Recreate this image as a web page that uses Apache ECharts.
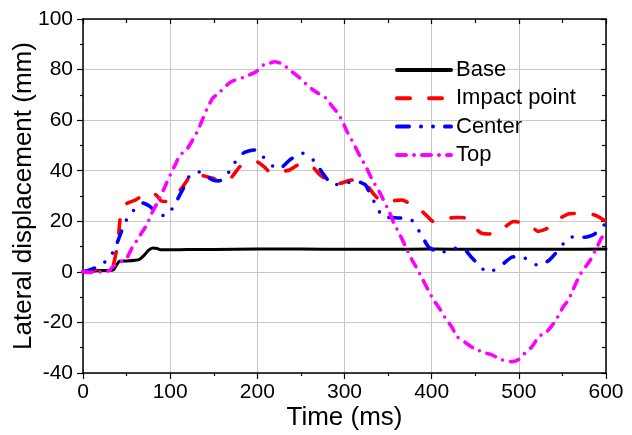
<!DOCTYPE html>
<html>
<head>
<meta charset="utf-8">
<script src="https://cdn.jsdelivr.net/npm/echarts@6/dist/echarts.min.js"></script>
<style>html,body{margin:0;padding:0;background:#fff}#c{width:632px;height:435px}</style>
</head>
<body>
<div id="c"></div>
<script>
var xTicks = [0, 100, 200, 300, 400, 500, 600];
var yTicks = [-40, -20, 0, 20, 40, 60, 80, 100];
var seriesNames = ['Base', 'Impact point', 'Center', 'Top'];

var baseT = [0,10,20,30,35,38,42,50,60,65,70,75,80,85,90,100,120,150,200,250,300,350,400,450,500,550,600];
var baseY = [0,0.2,0.5,0.5,0.8,2.5,4.2,4.3,4.6,5,6.5,8.5,9.4,9.2,8.7,8.7,8.8,8.8,9,9,8.9,8.9,9,8.9,8.9,8.9,9];

var impactT = [0,10,20,30,35,40,44,50,60,70,78,85,90,96,105,113,120,126,135,149,158,166,173,180,190,199,208,216,225,237,245,253,262,272,280,287,295,300,308,316,324,333,343,350,358,366,375,387,395,402,410,421,430,438,448,457,466,475,485,494,503,513,522,532,540,549,558,568,578,588,595,600];
var impactY = [0,0.5,1,1.5,3,12,24.5,27,28.4,30.5,31.7,30,28,27.8,30,33,36.5,39,38.3,37,35.5,35.7,38.5,41.6,43,43.6,41.5,39,39.5,40.3,42,43,42,38.3,36.3,34.4,35,35.5,36.3,36,35,31,27.8,28,28.2,28.4,27,24.5,22,19.9,20.5,21.3,21.5,21.3,18,15.3,15,15.3,18,19.9,19.5,18.5,16,17.1,19.5,21.6,23,23.1,23,22.4,21,20];

var centerT = [0,13,20,28,36,42,48,55,62,69,76,84,90,97,107,115,123,134,141,149,156,163,172,184,190,197,205,212,219,226,237,245,252,259,266,275,287,300,308,315,324,329,337,344,354,364,370,377,387,396,403,410,418,425,438,445,452,463,470,477,485,492,500,507,514,521,527,534,540,547,553,559,567,574,580,587,594,600];
var centerY = [0,1.5,3,4.5,8.7,14,19.4,23.2,25.5,27.2,26,23.8,22.3,22.5,27.8,33,38.3,39.5,38,36.3,36,37,42.3,47,47.8,48.2,46,43.6,41.5,41,44.2,46,46.9,45.5,43.6,39,34.4,35,35.5,35.7,34.4,31,25.8,21.8,21.5,21.3,21,20.5,15.3,10,8.5,7.5,8.5,9.3,8.7,6,3.5,0.1,0.5,1.7,4,5.8,6,5.4,4,2.7,3,4.4,6.5,9.3,12,13.7,13.8,13.7,14,15,17,19.5];

var topT = [0,10,20,30,34,40,50,57,62,67,73,79,86,94,100,106,111,120,128,132,138,143,149,153,158,163,170,178,185,191,199,207,214,220,229,237,243,249,257,264,270,277,283,291,298,302,310,318,324,331,341,352,357,364,371,377,383,390,396,402,410,417,423,429,435,440,448,457,463,469,477,486,492,499,505,515,523,532,540,546,551,557,562,570,574,582,590,595,600];
var topY = [0,-0.2,0,0.5,2,3.4,5.4,10,12.5,15.3,18.5,23.2,27.8,33.7,38.3,42.5,46,48.9,53.5,56.1,61,65,68.8,69.9,71.5,73.2,75.2,76.2,77,77.9,79.2,81.8,82.5,83.1,82.2,79.8,78.3,76.6,73.9,71.9,70.6,69.3,66.7,63.3,59.4,56.1,51,45.6,42,37,31,23.2,19,14.4,9.3,5,1.4,-3.2,-7.2,-11,-15,-19,-21.7,-25.6,-27,-28.3,-30.2,-31.5,-32.2,-32.8,-34.2,-35.4,-35.5,-34.8,-32.8,-29.6,-25.6,-23.7,-20.3,-17,-13.8,-11.1,-7.2,-1.2,0.8,4.7,10,13.5,15];

function pairs(t, y) { return t.map(function (v, i) { return [v, y[i]]; }); }

var FONT = "'Liberation Sans', Arial, sans-serif";
var xMin = xTicks[0], xMax = xTicks[xTicks.length - 1], xInt = xTicks[1] - xTicks[0];
var yMin = yTicks[0], yMax = yTicks[yTicks.length - 1], yInt = yTicks[1] - yTicks[0];

var chart = echarts.init(document.getElementById('c'), null, { renderer: 'canvas' });

function mkLine(name, t, y, color, width, type) {
  return {
    name: name, type: 'line', data: pairs(t, y), showSymbol: false, symbol: 'none',
    smooth: 0.2, animation: false,
    lineStyle: { color: color, width: width, type: type, cap: 'round', join: 'round' },
    itemStyle: { color: color }
  };
}

chart.setOption({
  animation: false,
  backgroundColor: '#fff',
  grid: { left: 83, right: 26, top: 19, bottom: 62, containLabel: false, outerBoundsMode: 'none' },
  legend: {
    orient: 'vertical', left: 395, top: 59, padding: 0,
    itemWidth: 54, itemHeight: 14, itemGap: 6.3,
    data: seriesNames,
    itemStyle: { opacity: 0 },
    lineStyle: { width: 4, cap: 'round' },
    textStyle: { fontSize: 22, color: '#000', fontFamily: FONT, lineHeight: 22 }
  },
  xAxis: [{
    type: 'value', position: 'bottom', min: xMin, max: xMax, interval: xInt,
    name: 'Time (ms)', nameLocation: 'middle', nameGap: 32, nameMoveOverlap: false,
    nameTextStyle: { fontSize: 26, color: '#000', fontFamily: FONT },
    axisLine: { show: true, onZero: false, lineStyle: { color: '#000', width: 1.5 } },
    axisTick: { show: true, inside: false, length: 6, lineStyle: { color: '#000', width: 1.2 } },
    minorTick: { show: true, splitNumber: 2, length: 3, lineStyle: { color: '#000', width: 1.2 } },
    axisLabel: { fontSize: 21, color: '#000', fontFamily: FONT, margin: 9 },
    splitLine: { show: true, lineStyle: { color: '#c8c8c8', width: 1 } }
  }, {
    type: 'value', position: 'top', min: xMin, max: xMax, interval: xInt,
    axisLine: { show: true, onZero: false, lineStyle: { color: '#000', width: 1.5 } },
    axisTick: { show: true, inside: true, length: 5, lineStyle: { color: '#000', width: 1.2 } },
    minorTick: { show: true, splitNumber: 2, length: 4, lineStyle: { color: '#000', width: 1.2 } },
    axisLabel: { show: false }, splitLine: { show: false }
  }],
  yAxis: [{
    type: 'value', position: 'left', min: yMin, max: yMax, interval: yInt,
    name: 'Lateral displacement (mm)', nameLocation: 'middle', nameGap: 46, nameMoveOverlap: false,
    nameTextStyle: { fontSize: 26, color: '#000', fontFamily: FONT },
    axisLine: { show: true, onZero: false, lineStyle: { color: '#000', width: 1.5 } },
    axisTick: { show: true, inside: false, length: 6, lineStyle: { color: '#000', width: 1.2 } },
    minorTick: { show: true, splitNumber: 2, length: 3, lineStyle: { color: '#000', width: 1.2 } },
    axisLabel: { fontSize: 21, color: '#000', fontFamily: FONT, margin: 10 },
    splitLine: { show: true, lineStyle: { color: '#c8c8c8', width: 1 } }
  }, {
    type: 'value', position: 'right', min: yMin, max: yMax, interval: yInt,
    axisLine: { show: true, onZero: false, lineStyle: { color: '#000', width: 1.5 } },
    axisTick: { show: true, inside: true, length: 5, lineStyle: { color: '#000', width: 1.2 } },
    minorTick: { show: true, splitNumber: 2, length: 4, lineStyle: { color: '#000', width: 1.2 } },
    axisLabel: { show: false }, splitLine: { show: false }
  }],
  series: [
    mkLine(seriesNames[0], baseT, baseY, '#000000', 3, 'solid'),
    mkLine(seriesNames[1], impactT, impactY, '#ff0000', 3.6, [13, 19]),
    mkLine(seriesNames[2], centerT, centerY, '#0000ff', 3.6, [12, 12, 0, 12, 0, 12]),
    mkLine(seriesNames[3], topT, topY, '#ff00ff', 3.6, [9, 8, 0, 8])
  ]
});
</script>
</body>
</html>
